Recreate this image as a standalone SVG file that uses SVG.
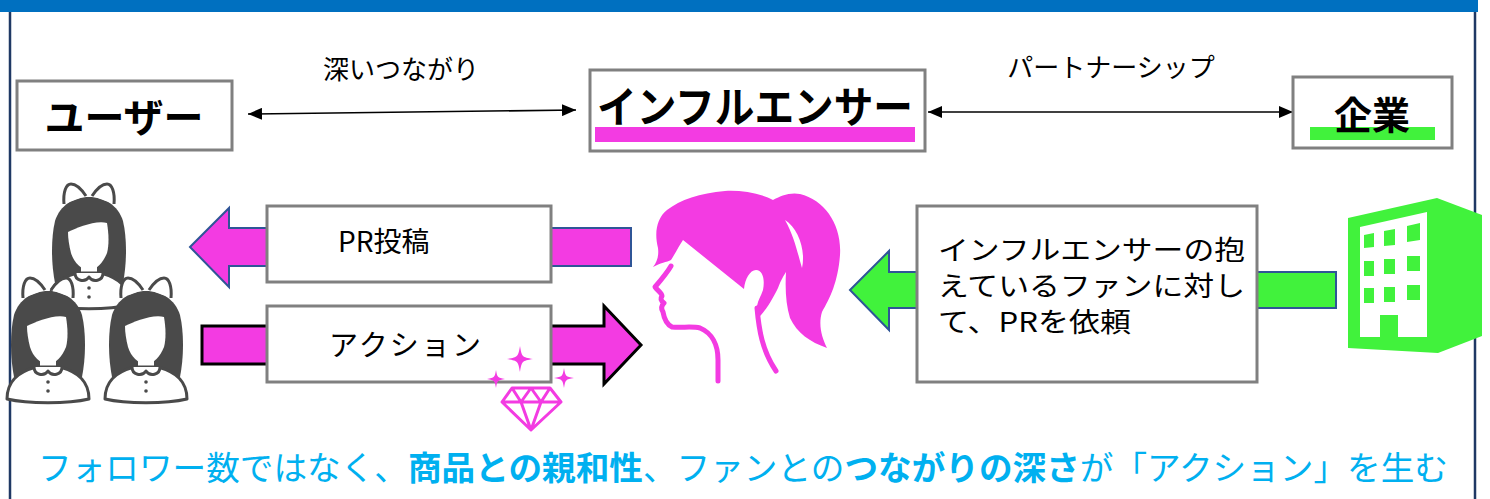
<svg xmlns="http://www.w3.org/2000/svg" width="1490" height="499" viewBox="0 0 1490 499">
  <style>
    .box { fill: #ffffff; stroke: #808080; stroke-width: 3; }
    .jp { font-family: "Noto Sans CJK JP", "Noto Sans", sans-serif; fill: #000000; }
    .title { font-weight: 700; }
    .label { font-size: 26px; }
    .body { font-size: 27px; }
    .tag { font-size: 33.5px; fill: #00B0F0; }
    .tag .b { font-weight: 700; }
    .mag { fill: #F33BE2; }
    .grn { fill: #41F23C; }
    .hair { fill: #4A4A4A; }
    .outline { fill: #ffffff; stroke: #4A4A4A; stroke-width: 3; stroke-linejoin: round; }
    .link { stroke: #000000; stroke-width: 1.6; fill: none; marker-start: url(#tip); marker-end: url(#tip); }
    .spark { fill: #F33BE2; }
    .gem { fill: none; stroke: #F33BE2; stroke-width: 3; stroke-linejoin: round; }
  </style>
  <defs>
    <marker id="tip" viewBox="0 0 14 12" refX="14" refY="6" markerWidth="14" markerHeight="12" markerUnits="userSpaceOnUse" orient="auto-start-reverse">
      <path d="M0,0 L14,6 L0,12 Z" fill="#000000"/>
    </marker>
    <!-- one woman figure; origin = centre top of the bow -->
    <g id="woman">
      <path class="hair" d="M-34,100 C-38,80 -38,55 -34,38 C-29,22 -15,14 0,14 C15,14 29,22 34,38 C38,55 38,80 34,100 Z"/>
      <path class="outline" d="M-25,21 C-26,9 -23,1 -18,1 C-13,1 -7,7 -3,13"/>
      <path class="outline" d="M25,21 C26,9 23,1 18,1 C13,1 7,7 3,13"/>
      <path fill="#ffffff" d="M-21,49 C-12,45 6,37 18,40 C20,52 20,62 18,70 C14,80 8,86 0,88 C-8,86 -15,80 -18,70 C-20,62 -21,55 -21,49 Z"/>
      <rect x="-8" y="80" width="16" height="12" fill="#ffffff"/>
      <path class="outline" d="M-41,122 C-41,104 -30,95 -12,90 L12,90 C30,95 41,104 41,122 C20,127 -20,127 -41,122 Z"/>
      <path class="outline" stroke-width="2.5" d="M-14,90 C-14,98 -4,100 0,94 C4,100 14,98 14,90"/>
      <circle cx="0" cy="105" r="1.8" fill="#4A4A4A"/>
      <circle cx="0" cy="114" r="1.8" fill="#4A4A4A"/>
    </g>
    <path id="sparkle" d="M0,-1 C0.15,-0.15 0.15,-0.15 1,0 C0.15,0.15 0.15,0.15 0,1 C-0.15,0.15 -0.15,0.15 -1,0 C-0.15,-0.15 -0.15,-0.15 0,-1 Z"/>
  </defs>

  <!-- frame -->
  <g id="frame">
    <rect x="0" y="0" width="1478" height="12" fill="#0070C0"/>
    <line x1="10" y1="12" x2="10" y2="499" stroke="#1F3864" stroke-width="2.5"/>
    <line x1="1475" y1="12" x2="1475" y2="499" stroke="#1F3864" stroke-width="2.5"/>
  </g>

  <!-- connectors -->
  <g id="connectors">
    <line class="link" x1="248" y1="114" x2="576" y2="110"/>
    <line class="link" x1="928" y1="112" x2="1293" y2="112"/>
    <text class="jp label" x="401" y="79" text-anchor="middle">深いつながり</text>
    <text class="jp label" x="1111" y="77" text-anchor="middle">パートナーシップ</text>
    <!-- PR posts flow to the users -->
    <polygon class="mag" stroke="#2F5597" stroke-width="2" points="190,247 229,208 229,228 631,228 631,266 229,266 229,287"/>
    <!-- actions flow back to the influencer -->
    <polygon class="mag" stroke="#000000" stroke-width="3" points="202,326 604,326 604,306 641,345 604,384 604,364 202,364"/>
    <!-- company request -->
    <polygon class="grn" stroke="#2F5597" stroke-width="2" points="850,290 889,251 889,272 1336,272 1336,308 889,308 889,330"/>
  </g>

  <!-- top row nodes -->
  <g id="user-node">
    <rect class="box" x="17" y="81" width="215" height="69"/>
    <text class="jp title" x="124" y="132" font-size="40" text-anchor="middle">ユーザー</text>
  </g>
  <g id="influencer-node">
    <rect class="box" x="590" y="70" width="335" height="81"/>
    <text class="jp title" x="597" y="123" font-size="43" textLength="316" lengthAdjust="spacingAndGlyphs">インフルエンサー</text>
    <rect class="mag" x="595" y="127" width="320" height="15"/>
  </g>
  <g id="company-node">
    <rect class="box" x="1293" y="77" width="159" height="71"/>
    <rect class="grn" x="1310" y="127" width="125" height="13"/>
    <text class="jp title" x="1372" y="129" font-size="38" text-anchor="middle">企業</text>
  </g>

  <!-- users -->
  <g id="users-icon">
    <use href="#woman" transform="translate(89,183)"/>
    <use href="#woman" transform="translate(48,277)"/>
    <use href="#woman" transform="translate(146,277)"/>
  </g>

  <!-- message boxes on the arrows -->
  <g id="pr-post">
    <rect class="box" x="267" y="206" width="284" height="76"/>
    <text class="jp" x="338" y="252" font-size="28">PR投稿</text>
  </g>
  <g id="action">
    <rect class="box" x="267" y="306" width="284" height="76"/>
    <text class="jp" x="329" y="356" font-size="29" textLength="152" lengthAdjust="spacing">アクション</text>
  </g>
  <g id="request">
    <rect class="box" x="917" y="206" width="340" height="176"/>
    <text class="jp body" x="938" y="260" textLength="307" lengthAdjust="spacingAndGlyphs">インフルエンサーの抱</text>
    <text class="jp body" x="938" y="296" textLength="307" lengthAdjust="spacingAndGlyphs">えているファンに対し</text>
    <text class="jp body" x="938" y="332" textLength="193" lengthAdjust="spacingAndGlyphs">て、PRを依頼</text>
  </g>

  <!-- diamond with sparkles -->
  <g id="gem-icon">
    <use href="#sparkle" class="spark" transform="translate(520,359) scale(13)"/>
    <use href="#sparkle" class="spark" transform="translate(496,379) scale(9)"/>
    <use href="#sparkle" class="spark" transform="translate(564,378) scale(10)"/>
    <path class="gem" d="M512,388 L550,388 L561,402 L531,430 L502,402 Z M502,402 L561,402 M512,388 L521,402 L531,388 L541,402 L550,388 M521,402 L531,430 L541,402"/>
  </g>

  <!-- influencer profile -->
  <g id="influencer-icon">
    <path class="mag" d="M653,267 C660,263 667,262 671,260 C676,252 679,246 683,240 L744,289 C745,279 750,270 756,270 C763,270 765,280 763,290 C761,296 758,300 757,306 L758,318 C765,312 772,300 778,288 C781,280 784,275 786,272 C785,290 786,305 790,318 C797,333 810,342 827,348 C822,338 818,325 822,312 C830,298 838,282 840,255 C842,225 825,200 800,194 C790,192 780,196 773,200 C760,193 740,190 725,191 C700,193 680,200 667,210 C657,218 654,232 658,248 C659,256 657,262 653,267 Z"/>
    <path fill="#ffffff" d="M785,220 C798,228 806,250 802,268 C798,255 795,238 785,220 Z"/>
    <path fill="none" stroke="#F33BE2" stroke-width="5" stroke-linecap="round" stroke-linejoin="round" d="M671,266 C667,273 661,280 655,287 C658,291 662,293 662,296 C660,299 661,301 664,303 C661,306 661,309 663,312 C664,318 666,324 672,327 C682,328 692,326 700,328 C712,333 718,345 718,360 L718,381"/>
    <path fill="none" stroke="#F33BE2" stroke-width="5" stroke-linecap="round" d="M757,308 C759,330 762,350 776,371"/>
  </g>

  <!-- company building -->
  <g id="building-icon">
    <polygon class="grn" points="1348,218 1437,198 1482,215 1482,336 1438,353 1348,348"/>
    <polygon fill="#ffffff" points="1360,227 1427,212 1427,337 1360,337"/>
    <g class="grn">
      <polygon points="1364,235 1374,233 1374,247 1364,248"/>
      <polygon points="1384,231 1395,229 1395,245 1384,246"/>
      <polygon points="1407,226 1420,223 1420,240 1407,242"/>
      <rect x="1364" y="261" width="10" height="15"/>
      <rect x="1384" y="259" width="11" height="15"/>
      <rect x="1407" y="256" width="13" height="15"/>
      <rect x="1364" y="288" width="10" height="15"/>
      <rect x="1384" y="287" width="11" height="15"/>
      <rect x="1407" y="285" width="13" height="15"/>
      <rect x="1380" y="315" width="18" height="23"/>
    </g>
  </g>

  <!-- tagline -->
  <g id="tagline">
    <text class="jp tag" x="38" y="480" textLength="1410" lengthAdjust="spacingAndGlyphs">フォロワー数ではなく、<tspan class="b">商品との親和性</tspan>、ファンとの<tspan class="b">つながりの深さ</tspan>が「アクション」を生む</text>
  </g>
</svg>
